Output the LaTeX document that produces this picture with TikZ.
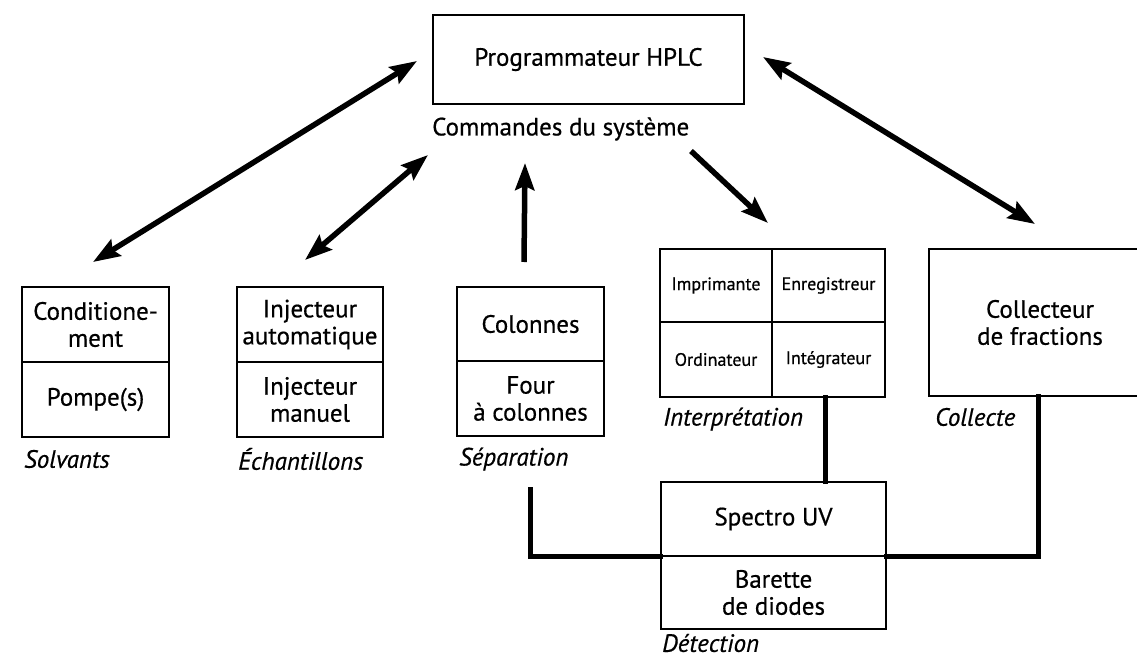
\documentclass[tikz,border=0pt]{standalone}
\usepackage{fontspec}
\setmainfont{PT Sans}[FakeBold=0.6]
\usetikzlibrary{arrows.meta}
\begin{document}
\begin{tikzpicture}[x=1pt,y=-1pt,
  box/.style={draw,line width=1.8pt,inner sep=0pt,align=center,font=\fontsize{25}{27}\selectfont},
  small/.style={draw,line width=1.8pt,inner sep=0pt,align=center,font=\fontsize{18}{20}\selectfont},
  lbl/.style={anchor=west,inner sep=0pt,font=\fontsize{25}{27}\selectfont\itshape},
  arr/.style={line width=5.5pt,-{Stealth[length=27pt,width=19pt,inset=4pt]}},
  darr/.style={line width=5.5pt,{Stealth[length=27pt,width=19pt,inset=4pt]}-{Stealth[length=27pt,width=19pt,inset=4pt]}},
  pipe/.style={line width=5pt,line cap=rect}]
\useasboundingbox (0,0) rectangle (1137,658);
\begin{scope}
\clip (0,0) rectangle (1137,658);
% top
\node[box,minimum width=311pt,minimum height=89pt] (prog) at (588.5,59.5) {Programmateur HPLC};
\node[anchor=west,inner sep=0pt,font=\fontsize{25}{27}\selectfont] (cmd) at (432,129) {Commandes du système};
% solvants
\node[box,minimum width=147pt,minimum height=75pt] (cond) at (95.5,324.5) {Conditione-\\ment};
\node[box,minimum width=147pt,minimum height=75pt] (pompe) at (95.5,399.5) {Pompe(s)};
\node[lbl] (solv) at (24,459) {Solvants};
% echantillons
\node[box,minimum width=146pt,minimum height=75pt] (injA) at (310,324.5) {Injecteur\\automatique};
\node[box,minimum width=146pt,minimum height=75pt] (injM) at (310,399.5) {Injecteur\\manuel};
\node[lbl] (ech) at (238,459) {Échantillons};
% separation
\node[box,minimum width=147pt,minimum height=74pt] (col) at (530.5,324) {Colonnes};
\node[box,minimum width=147pt,minimum height=75pt] (four) at (530.5,398.5) {Four\\à colonnes};
\node[lbl] (sep) at (459,459) {Séparation};
% interpretation
\node[small,minimum width=112pt,minimum height=73pt] (impr) at (716,285.5) {Imprimante};
\node[small,minimum width=113pt,minimum height=73pt] (enr) at (828.5,285.5) {Enregistreur};
\node[small,minimum width=112pt,minimum height=75pt] (ord) at (716,359.5) {Ordinateur};
\node[small,minimum width=113pt,minimum height=75pt] (integ) at (828.5,359.5) {Intégrateur};
\node[lbl] (interp) at (663,419) {Interprétation};
% collecte
\node[box,minimum width=222pt,minimum height=147pt] (coll) at (1040,322.5) {Collecteur\\de fractions};
\node[lbl] (collecte) at (935,417) {Collecte};
% detection
\node[box,minimum width=225pt,minimum height=74pt] (spec) at (773.5,519) {Spectro UV};
\node[box,minimum width=225pt,minimum height=73pt] (bar) at (773.5,592.5) {Barette\\de diodes};
\node[lbl] (det) at (662,643) {Détection};
\end{scope}
% arrow ends
\coordinate (a1s) at (93,262); \coordinate (a1e) at (417,61);
\coordinate (a2s) at (305,260); \coordinate (a2e) at (428,155);
\coordinate (a3s) at (524,262); \coordinate (a3e) at (525,163);
\coordinate (a4s) at (691,151); \coordinate (a4e) at (768,223);
\coordinate (a5s) at (1035,224); \coordinate (a5e) at (763,57);
\draw[darr] (a1s) -- (a1e);
\draw[darr] (a2s) -- (a2e);
\draw[arr] (a3s) -- (a3e);
\draw[arr] (a4s) -- (a4e);
\draw[darr] (a5s) -- (a5e);
% pipes
\coordinate (p1) at (530,489);
\draw[pipe] (p1) |- (spec.south west);
\draw[pipe] (coll.south -| 1038,0) |- (spec.south east);
\draw[pipe] (integ.south -| 825,0) -- (spec.north -| 825,0);
\end{tikzpicture}
\end{document}
